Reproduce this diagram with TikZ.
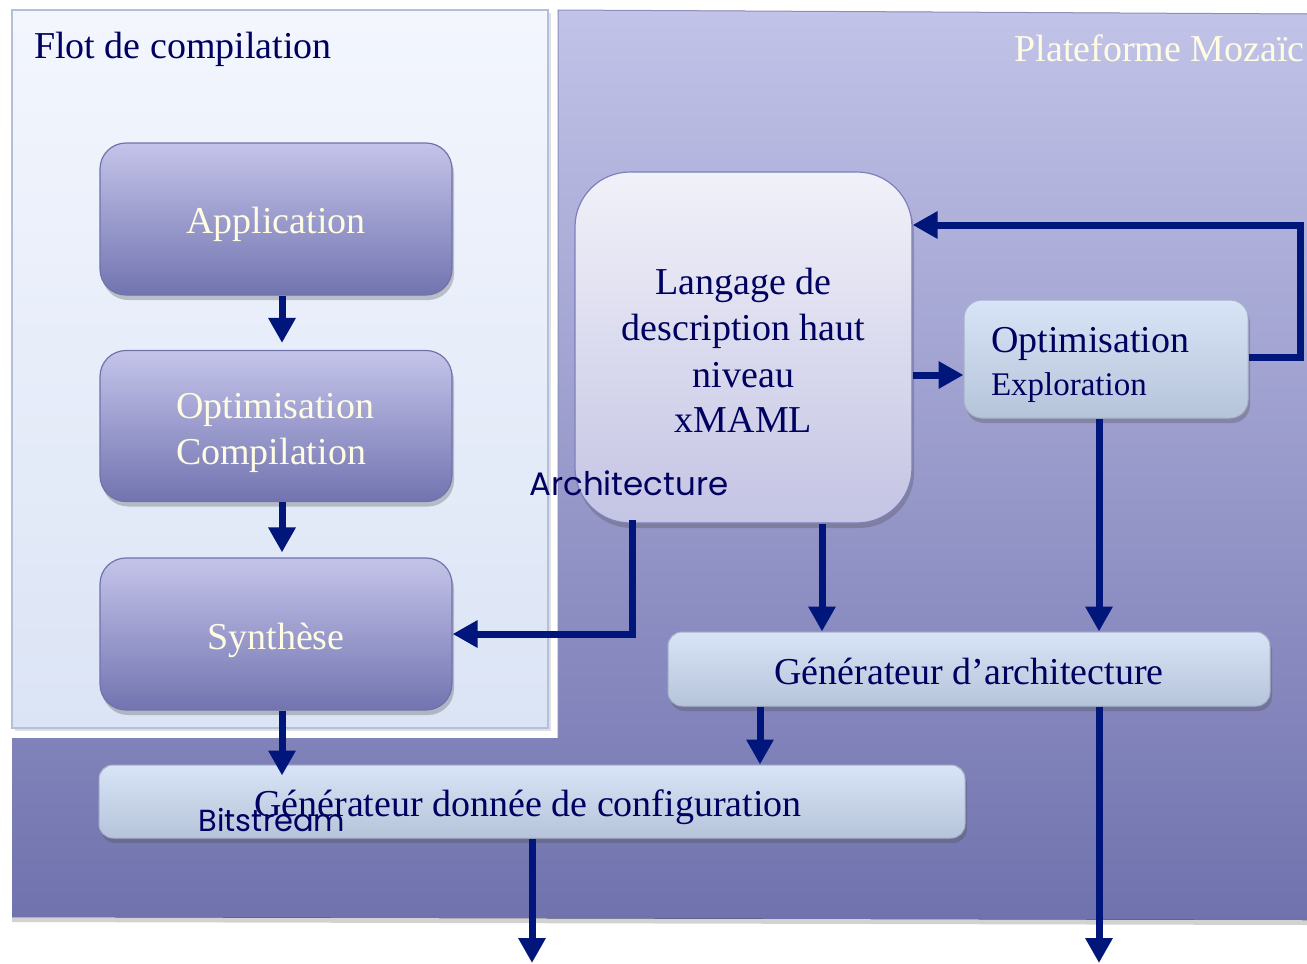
\documentclass[tikz,border=0pt]{standalone}
\usepackage{fontspec}
\setmainfont{Liberation Serif}
\newfontfamily\gothic{Poppins}
\usetikzlibrary{arrows.meta,shadows,calc}
\newcommand{\lowr}[2][5pt]{\raisebox{-#1}[\height][\depth]{#2}}
\definecolor{navy}{RGB}{0,22,122}
\definecolor{txtnavy}{RGB}{0,0,96}
\definecolor{cream}{RGB}{255,252,228}
\definecolor{plattop}{RGB}{194,195,232}
\definecolor{platbot}{RGB}{112,114,174}
\definecolor{flottop}{RGB}{243,246,253}
\definecolor{flotbot}{RGB}{219,228,245}
\definecolor{flotedge}{RGB}{180,192,216}
\definecolor{stagetop}{RGB}{196,196,234}
\definecolor{stagebot}{RGB}{114,116,176}
\definecolor{stageedge}{RGB}{112,114,172}
\definecolor{lighttop}{RGB}{216,228,246}
\definecolor{lightbot}{RGB}{182,196,218}
\definecolor{lightedge}{RGB}{166,178,204}
\definecolor{langtop}{RGB}{241,241,249}
\definecolor{langbot}{RGB}{196,196,228}
\definecolor{langedge}{RGB}{126,128,186}
\tikzset{
  big/.style={font=\fontsize{38}{46}\selectfont},
  shad/.style={drop shadow={shadow xshift=2pt,shadow yshift=-5pt,opacity=0.3,fill=black!70}},
  stage/.style={draw=stageedge, line width=1.2pt, rounded corners=26pt,
    top color=stagetop, bottom color=stagebot, minimum width=352pt,
    minimum height=152pt, text=cream, big, shad},
  lightbox/.style={draw=lightedge, line width=1pt, rounded corners=14pt,
    top color=lighttop, bottom color=lightbot, text=txtnavy, big, shad},
  arr/.style={draw=navy, line width=7pt,
    -{Triangle[width=26pt,length=25pt]}},
  sanslabel/.style={text=txtnavy, inner sep=0pt}
}
\begin{document}
\begin{tikzpicture}[x=1pt,y=-1pt]
\useasboundingbox (0,0) rectangle (1307,964);
% platform background
\fill[top color=plattop, bottom color=platbot,
  drop shadow={shadow xshift=0pt,shadow yshift=-5pt,opacity=0.25,fill=black!70}]
  (558,10) -- (1307,14) -- (1307,920) -- (12,917) -- (12,738) -- (558,738) -- cycle;
\draw[stageedge!80, line width=1pt] (558,738) -- (558,10) -- (1307,14);
\node[text=cream, big, anchor=east, inner sep=0pt] (plat) at (1305,48) {Plateforme Mozaïc};
% compilation flow box
\node[draw=flotedge, line width=1.5pt, top color=flottop, bottom color=flotbot,
  minimum width=536pt, minimum height=718pt, inner sep=0pt,
  drop shadow={shadow xshift=3pt,shadow yshift=-3pt,opacity=0.2,fill=black!60}] (flot) at (280,369) {};
\node[text=txtnavy, big, anchor=west, inner sep=0pt] (flottitle) at (34,49) {Flot de compilation};
% stages
\node[stage] (app) at (276,219) {\lowr{Application}};
\node[stage, minimum height=151pt, text width=200pt, align=left] (optc) at (276,426) {\lowr[7pt]{Optimisation}\\\lowr[7pt]{Compilation}};
\node[stage] (synth) at (276,634) {\lowr[6pt]{Synthèse}};
% langage
\node[draw=langedge, line width=1.2pt, rounded corners=55pt, top color=langtop,
  bottom color=langbot, minimum width=337pt, minimum height=351pt, text=txtnavy,
  big, align=center, shad] (lang) at (743.5,347.5)
  {\lowr[3pt]{Langage de}\\\lowr[3pt]{description haut}\\\lowr[4pt]{niveau}\\\lowr[3pt]{xMAML}};
% optimisation exploration
\node[lightbox, rounded corners=18pt, minimum width=284pt, minimum height=118pt,
  text width=230pt, align=left, font=\fontsize{38}{44}\selectfont] (optx) at (1106,359)
  {\lowr[6pt]{Optimisation}\\{\fontsize{33}{40}\selectfont\lowr[5pt]{Exploration}}};
% generators
\node[lightbox, minimum width=602pt, minimum height=74pt] (genarch) at (969,669) {\lowr[2pt]{Générateur d’architecture}};
\node[lightbox, minimum width=866pt, minimum height=73pt] (gencfg) at (532,801.5) {\hspace*{-8pt}\lowr[6pt]{Générateur donnée de configuration}};
% labels
\node[sanslabel, font=\gothic\fontsize{32.5}{38}\selectfont] (archlbl) at (629,483) {Architecture};
\node[sanslabel, font=\gothic\fontsize{30.5}{36}\selectfont] (bitlbl) at (272,820) {Bitstream};
% free ends
\coordinate (out1) at (1099,963);
\coordinate (out2) at (532,963);
% arrows
\draw[arr, shorten >=7pt] ([xshift=6pt]app.south) -- ([xshift=6pt]optc.north);
\draw[arr, shorten >=5pt] ([xshift=6pt]optc.south) -- ([xshift=6pt]synth.north);
\draw[arr] ([xshift=6pt]synth.south) -- ($([xshift=6pt]synth.south |- gencfg.north)+(0,11)$);
\draw[arr] ($(lang.south west)+(58,-4)$) |- (synth.east);
\draw[arr] ([xshift=78.5pt]lang.south) -- ([xshift=78.5pt]lang.south |- genarch.north);
\draw[arr] ([yshift=-27.5pt]lang.east) -- ([yshift=-27.5pt]lang.east -| optx.west);
\draw[arr] ([yshift=2pt]optx.east) -- ++(52,0) |- ([yshift=122.5pt]lang.east);
\draw[arr] ([xshift=-7pt]optx.south) -- ([xshift=-7pt]optx.south |- genarch.north);
\draw[arr] ([xshift=-209pt]genarch.south) -- ([xshift=-209pt]genarch.south |- gencfg.north);
\draw[arr] ([xshift=130pt]genarch.south) -- (out1);
\draw[arr] (gencfg.south) -- (out2);
\end{tikzpicture}
\end{document}
